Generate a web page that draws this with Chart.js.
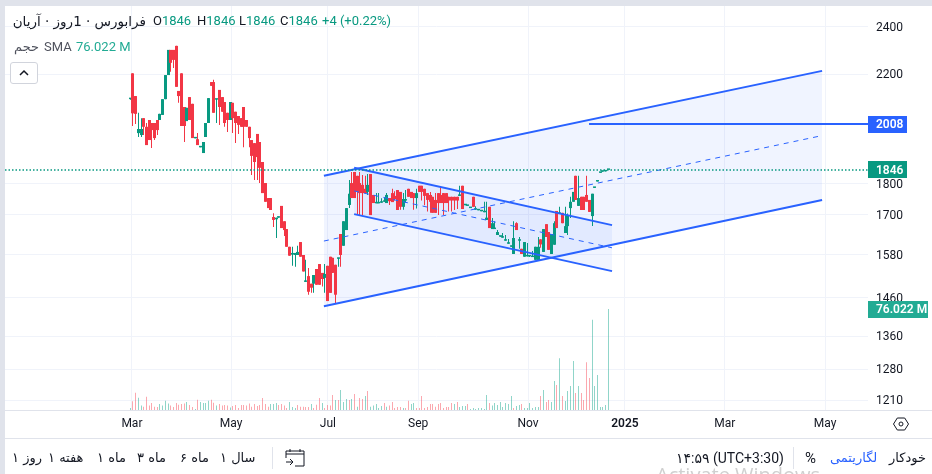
<!DOCTYPE html>
<html lang="fa">
<head>
<meta charset="utf-8">
<script src="https://cdn.jsdelivr.net/npm/chart.js@4"></script>
<style>
html,body{margin:0;padding:0;background:#fff;width:932px;height:474px;overflow:hidden}
body{position:relative;font-family:Roboto,"Noto Sans","DejaVu Sans",sans-serif;color:#131722}
canvas{position:absolute;left:0;top:0}
.t{position:absolute;white-space:nowrap;font-size:13px;line-height:16px}
.g{color:#089981}
.band{position:absolute;background:#e0e3eb}
.fa{font-family:"DejaVu Sans","Noto Sans",sans-serif;font-size:13px}
</style>
</head>
<body>
<div class="band" style="left:0;top:0;width:932px;height:6px"></div>
<div class="band" style="left:0;top:0;width:5px;height:474px"></div>
<div class="band" style="left:5px;top:410px;width:927px;height:1px"></div>
<div class="band" style="left:5px;top:438px;width:927px;height:1px"></div>
<div class="band" style="left:272px;top:447px;width:1px;height:22px"></div>
<div class="band" style="left:793px;top:447px;width:1px;height:22px"></div>
<canvas id="c" width="932" height="474"></canvas>

<div class="t fa" dir="rtl" style="left:14px;top:13px;width:132px;font-size:13.5px;color:#131722">فرابورس · 1روز · آریان</div>
<div class="t" style="left:153px;top:13px">O<span class="g">1846</span></div>
<div class="t" style="left:197px;top:13px">H<span class="g">1846</span></div>
<div class="t" style="left:239px;top:13px">L<span class="g">1846</span></div>
<div class="t" style="left:280px;top:13px">C<span class="g">1846</span></div>
<div class="t g" style="left:322px;top:13px">+4 (+0.22%)</div>
<div class="t fa" style="left:14px;top:39px;color:#50535e">حجم</div>
<div class="t" style="left:44px;top:39px;color:#50535e">SMA</div>
<div class="t" style="left:76px;top:39px;color:#22ab94;font-size:13px">76.022 M</div>
<div style="position:absolute;left:10px;top:62px;width:26px;height:20px;border:1px solid #d1d4dc;border-radius:3px;background:#fff">
<svg width="26" height="20" style="display:block"><path d="M9 12l4-4 4 4" fill="none" stroke="#131722" stroke-width="1.5"/></svg></div>

<svg style="position:absolute;left:892px;top:415px" width="18" height="18"><path d="M1.5 9l3.8-6h7.4l3.8 6-3.8 6H5.300z" fill="none" stroke="#131722" stroke-width="1"/><circle cx="9" cy="9" r="2" fill="none" stroke="#131722"/></svg>

<div class="t fa" style="left:12px;top:450px">۱ روز</div>
<div class="t fa" style="left:48px;top:450px">۱ هفته</div>
<div class="t fa" style="left:97px;top:450px">۱ ماه</div>
<div class="t fa" style="left:137px;top:450px">۳ ماه</div>
<div class="t fa" style="left:180px;top:450px">۶ ماه</div>
<div class="t fa" style="left:220px;top:450px">۱ سال</div>
<svg style="position:absolute;left:285px;top:447px" width="20" height="20"><path d="M1 7h18M5 2v3M15 2v3M1 11V4h18v15H10M1 15h7M5 12l3 3-3 3" fill="none" stroke="#131722" stroke-width="1"/></svg>
<div class="t" style="left:676px;top:450px;font-size:14px">۱۴:۵۹ (UTC+3:30)</div>
<div class="t" style="left:805px;top:450px;font-size:15px">%</div>
<div class="t fa" style="left:830px;top:450px;color:#2962ff">لگاریتمی</div>
<div class="t fa" style="left:889px;top:450px">خودکار</div>
<div class="t" style="left:656px;top:463px;font-size:20px;line-height:24px;color:#d0d0d0;font-family:'Open Sans',sans-serif">Activate Windows</div>

<script>
const tickIndexes = [0.6, 37.3, 73.2, 106.6, 147.3, 183.2, 220.2, 257.3];
const tickLabels = ['Mar', 'May', 'Jul', 'Sep', 'Nov', '2025', 'Mar', 'May'];
const priceTicks = [1210, 1280, 1360, 1460, 1580, 1700, 1800, 2200, 2400];

const opens = [2102,2204,2114,1975,1968,2030,1998,2023,2012,2012,2023,2023,2042,2102,2197,2301,2301,2318,2134,2204,2072,2019,2110,2084,1956,1953,1924,1904,1961,2012,2169,2169,2100,2138,2110,2091,2050,2023,2088,2054,2038,2030,2072,2023,1998,1950,1939,1972,1943,1873,1802,1753,1753,1693,1686,1691,1728,1680,1656,1603,1580,1579,1579,1617,1579,1503,1519,1498,1498,1539,1553,1528,1514,1548,1574,1571,1551,1568,1641,1606,1653,1731,1802,1839,1826,1802,1796,1783,1773,1832,1763,1736,1736,1738,1741,1737,1753,1769,1760,1779,1773,1725,1745,1783,1773,1769,1753,1793,1793,1783,1769,1763,1757,1747,1769,1763,1769,1769,1757,1757,1757,1757,1760,1793,1730,1728,1721,1757,1716,1714,1711,1708,1684,1725,1656,1656,1638,1633,1630,1621,1612,1603,1582,1674,1621,1597,1574,1575,1575,1573,1565,1562,1625,1588,1671,1647,1582,1609,1712,1703,1706,1644,1665,1721,1741,1826,1728,1757,1757,1763,1747,1696,1786,1807,1836,1840,1841,1846];
const highs = [2104,2204,2114,2050,2030,2030,2012,2023,2012,2012,2023,2046,2102,2197,2301,2301,2301,2318,2134,2204,2072,2069,2110,2084,1958,1975,1926,1943,2012,2106,2169,2178,2104,2138,2110,2091,2050,2091,2088,2054,2038,2030,2072,2023,1998,1950,1939,1972,1943,1873,1802,1753,1753,1705,1691,1695,1728,1680,1656,1603,1603,1585,1606,1617,1579,1565,1542,1498,1522,1539,1553,1528,1553,1548,1574,1571,1551,1571,1641,1680,1721,1812,1839,1839,1826,1839,1829,1826,1832,1832,1763,1769,1769,1752,1756,1769,1753,1783,1775,1779,1773,1769,1779,1783,1773,1769,1783,1793,1793,1783,1769,1773,1757,1769,1769,1791,1769,1769,1757,1757,1757,1757,1793,1793,1732,1730,1723,1757,1727,1716,1713,1741,1741,1725,1690,1680,1653,1635,1644,1638,1626,1606,1680,1677,1632,1597,1617,1614,1577,1591,1603,1632,1625,1656,1671,1647,1641,1680,1712,1725,1706,1725,1704,1757,1773,1826,1826,1757,1757,1826,1747,1767,1789,1809,1839,1842,1843,1846];
const lows = [2100,2001,2008,1961,1961,1968,1932,1950,1922,1950,1968,2023,2042,2102,2197,2210,2226,2150,2088,2001,1943,2019,2023,1957,1956,1932,1924,1904,1961,2012,2154,2050,2012,2005,2054,1998,1979,2023,1975,1939,1972,1998,1924,1998,1924,1829,1812,1812,1802,1769,1741,1721,1715,1662,1629,1691,1659,1635,1603,1577,1548,1545,1579,1574,1532,1503,1468,1473,1473,1495,1495,1490,1473,1451,1473,1528,1443,1545,1545,1606,1653,1721,1753,1753,1702,1699,1699,1769,1763,1699,1737,1736,1736,1738,1741,1737,1731,1740,1745,1715,1716,1716,1738,1757,1753,1716,1720,1773,1745,1730,1710,1706,1706,1706,1699,1737,1699,1737,1710,1710,1715,1718,1760,1718,1730,1728,1721,1725,1716,1714,1711,1708,1684,1659,1656,1656,1638,1633,1630,1621,1612,1603,1582,1653,1597,1582,1574,1575,1573,1573,1565,1562,1600,1588,1632,1594,1582,1609,1659,1703,1674,1644,1638,1690,1741,1747,1728,1715,1715,1741,1709,1665,1786,1807,1836,1840,1841,1846];
const closes = [2104,2048,2046,1990,1990,1998,1932,1950,1986,1957,1986,2046,2102,2197,2301,2247,2259,2150,2114,2001,2001,2069,2023,1957,1958,1932,1926,1943,2012,2106,2154,2050,2104,2072,2054,2012,2023,2091,2030,2012,2005,1998,1998,1998,1957,1894,1873,1890,1853,1769,1741,1721,1715,1684,1691,1695,1659,1653,1603,1577,1585,1585,1588,1574,1532,1505,1476,1487,1522,1495,1495,1511,1525,1451,1473,1528,1468,1571,1579,1680,1721,1767,1753,1753,1773,1769,1769,1769,1796,1699,1737,1738,1738,1741,1743,1763,1743,1740,1750,1715,1725,1750,1748,1757,1753,1753,1769,1773,1773,1760,1747,1741,1706,1706,1737,1737,1737,1737,1745,1745,1745,1745,1762,1718,1732,1730,1723,1725,1718,1716,1713,1710,1691,1659,1674,1658,1647,1635,1632,1623,1614,1606,1629,1653,1623,1582,1617,1577,1577,1575,1603,1603,1610,1656,1632,1594,1641,1674,1659,1706,1674,1665,1699,1741,1773,1747,1753,1715,1715,1741,1709,1767,1789,1809,1839,1842,1843,1846];

const volumes = [1.5,6.5,13,9.3,3.3,2.5,10,3.3,5.3,2.5,2.3,4.5,3.3,7,4.8,3.3,2.3,5.3,4,4.5,4.8,6,3.8,2.3,.8,7.8,6,5.3,5.3,7,7.8,5.5,3.3,4.5,3.3,3.8,3.3,1.8,3,3.8,1.5,3.8,3.8,3.3,4.8,2.5,4.5,3,3.8,9,4.5,2.5,4.5,4.5,5.3,3.8,4.5,3.3,1.5,6,2.3,1.5,3.8,2.5,2.5,2.3,2.3,4.5,1.5,4,9,5.3,1.5,3.8,3.3,11.3,7.5,7.5,15,6,8.3,7.5,8.3,12,2.5,9,8.3,10.5,14.3,2.5,3.3,4.5,1.5,3,5.3,2.5,3.3,6,1.5,2.3,2.3,1.5,1.5,7,4.5,5.3,1.5,1.5,10.5,1.5,2.3,4.5,4.5,2.5,4.5,5.3,1.5,2.3,2.3,5.3,4.5,6,2.3,3,3,4.5,.8,1.5,.8,1.5,1.5,.8,11.3,5.3,3.3,5.3,3.8,6,2.3,5.3,4.5,10.5,1.5,3,3.8,4.5,1.5,1.5,5.3,1.5,2.3,2.3,10.5,15,6,7.5,6,21.8,18.8,39,10.5,6.8,14.3,18,36.8,12.8,18,12.8,7.5,36,24,68,18,26.3,2.3,2.3,3.8,76];
const volumeSides = 'grrggrrrrr' + 'rggggrrrrr' + 'rgrrgrgggg' + 'rrgrrrrgrr' + 'rrrrrrrrrr' + 'rrgggrrrrg' + 'ggrrrrrgrr' + 'rgrrrrgrgg' + 'grgrgrrgrg' + 'ggggrgrrrr' + 'rgrrggrrrr' + 'rrrrrrrrrr' + 'grgggrgggg' + 'gggrgggggg' + 'ggrggrgggg' + 'ggrgrrggrg' + 'rggggrgrrr' + 'rggggggg';

const bigChannelX = [71.7, 256.2];
const bigChannelTop = [1826, 2214];
const bigChannelMid = [1620, 1966];
const bigChannelBottom = [1437, 1747];
const smallChannelX = [82.9, 178.4];
const smallChannelTop = [1853, 1668];
const smallChannelMid = [1776, 1600];
const smallChannelBottom = [1702, 1533];
const targetLevel = 2008;
const targetStartIndex = 169.9;
const lastPrice = 1846;
const lastVolumeLabel = '76.022 M';

const AXIS_MIN = -46.4, AXIS_MAX = 273.2;
const UP = '#089981', DOWN = '#f23645', BLUE = '#2962ff';
const pts = (xs, ys) => xs.map((x, i) => ({x, y: ys[i]}));
const barIdx = opens.map((_, i) => i);

const lineDs = (label, data, extra) => Object.assign({type: 'line', label, data, yAxisID: 'y', pointRadius: 0, borderColor: BLUE, borderWidth: 2, fill: false, tension: 0, order: 5}, extra);
const fillDs = (label, data, target) => lineDs(label, data, {borderWidth: 0, borderColor: 'transparent', fill: target === null ? false : {target}, backgroundColor: 'rgba(41,98,255,0.07)', order: 30});

const datasets = [
  fillDs('bigFillTop', pts(bigChannelX, bigChannelTop), 1),
  fillDs('bigFillBottom', pts(bigChannelX, bigChannelBottom), null),
  fillDs('smallFillTop', pts(smallChannelX, smallChannelTop), 3),
  fillDs('smallFillBottom', pts(smallChannelX, smallChannelBottom), null),
  {type: 'bar', label: 'volume', yAxisID: 'v', grouped: false, barThickness: 1, inflateAmount: 0, order: 20,
   data: barIdx.map(i => ({x: i, y: volumes[i]})),
   backgroundColor: barIdx.map(i => volumeSides[i] === 'g' ? 'rgba(34,171,148,0.5)' : 'rgba(247,82,95,0.5)')},
  {type: 'bar', label: 'wick', yAxisID: 'y', grouped: false, barThickness: 1, inflateAmount: 0, order: 15,
   data: barIdx.map(i => ({x: i, y: [lows[i], highs[i]]})),
   backgroundColor: barIdx.map(i => closes[i] >= opens[i] ? UP : DOWN)},
  {type: 'bar', label: 'body', yAxisID: 'y', grouped: false, barThickness: 3, minBarLength: 1.5, inflateAmount: 0, order: 14,
   data: barIdx.map(i => ({x: i, y: [opens[i], closes[i]]})),
   backgroundColor: barIdx.map(i => closes[i] >= opens[i] ? UP : DOWN)},
  lineDs('bigTop', pts(bigChannelX, bigChannelTop)),
  lineDs('bigBottom', pts(bigChannelX, bigChannelBottom)),
  lineDs('bigMid', pts(bigChannelX, bigChannelMid), {borderWidth: 1, borderDash: [5, 5]}),
  lineDs('smallTop', pts(smallChannelX, smallChannelTop)),
  lineDs('smallBottom', pts(smallChannelX, smallChannelBottom)),
  lineDs('smallMid', pts(smallChannelX, smallChannelMid), {borderWidth: 1, borderDash: [5, 5]}),
  lineDs('target', pts([targetStartIndex, AXIS_MAX], [targetLevel, targetLevel])),
  lineDs('last', pts([AXIS_MIN, AXIS_MAX], [lastPrice, lastPrice]), {borderColor: UP, borderWidth: 1.5, borderDash: [1.5, 2], order: 4})
];

const snapBars = {
  id: 'snapBars',
  beforeDatasetsDraw(chart) {
    chart.getSortedVisibleDatasetMetas().forEach(m => {
      if (m.type === 'bar') m.data.forEach(el => { el.x = Math.floor(el.x) + 0.5; });
    });
  }
};

function box(ctx, x, yc, w, text, color) {
  ctx.fillStyle = color;
  ctx.fillRect(x, Math.round(yc - 8.5), w, 17);
  ctx.fillStyle = '#fff';
  ctx.font = '600 12px Roboto, sans-serif';
  ctx.textAlign = 'left';
  ctx.textBaseline = 'middle';
  ctx.fillText(text, x + 8, Math.round(yc) + 0.5);
}
const axisBoxes = {
  id: 'axisBoxes',
  afterDraw(chart) {
    const {ctx, chartArea: a, scales: s} = chart;
    ctx.save();
    box(ctx, a.right, s.y.getPixelForValue(targetLevel), 39, String(targetLevel), BLUE);
    box(ctx, a.right, s.y.getPixelForValue(lastPrice), 39, String(lastPrice), UP);
    box(ctx, a.right, s.v.getPixelForValue(volumes[volumes.length - 1]), 60, lastVolumeLabel, '#22ab94');
    ctx.restore();
  }
};
const noPad = sc => { sc.paddingLeft = sc.paddingRight = sc.paddingTop = sc.paddingBottom = 0; };

new Chart(document.getElementById('c'), {
  data: {datasets},
  plugins: [snapBars, axisBoxes],
  options: {
    responsive: false,
    animation: false,
    devicePixelRatio: 1,
    parsing: {xAxisKey: 'x', yAxisKey: 'y'},
    layout: {autoPadding: false, padding: {left: 5, top: 6, right: 0, bottom: 0}},
    plugins: {legend: {display: false}, tooltip: {enabled: false}, title: {display: false}},
    scales: {
      x: {
        type: 'linear', position: 'bottom', offset: false, min: AXIS_MIN, max: AXIS_MAX, bounds: 'data',
        afterBuildTicks(sc) { sc.ticks = tickIndexes.map(value => ({value})); },
        afterFit(sc) { sc.height = 64; noPad(sc); },
        border: {display: false},
        grid: {color: '#f0f3fa', drawTicks: false, offset: false},
        ticks: {
          autoSkip: false, maxRotation: 0, padding: 7, color: '#131722',
          font: c => ({family: 'Roboto', size: 12, weight: c.tick && c.tick.value === 183.2 ? '600' : '400'}),
          callback: v => tickLabels[tickIndexes.indexOf(v)] || ''
        }
      },
      y: {
        type: 'logarithmic', position: 'right', min: 1188, max: 2494, bounds: 'data',
        afterBuildTicks(sc) { sc.ticks = priceTicks.map(value => ({value})); },
        afterFit(sc) { sc.width = 64; noPad(sc); },
        border: {display: false},
        grid: {color: '#f0f3fa', drawTicks: false},
        ticks: {autoSkip: false, padding: 8, labelOffset: 1, color: '#131722', major: {enabled: false}, font: {family: 'Roboto', size: 12}, callback: v => String(v)}
      },
      v: {type: 'linear', display: false, min: 0, max: 304, bounds: 'data'}
    }
  }
});
</script>
</body>
</html>
